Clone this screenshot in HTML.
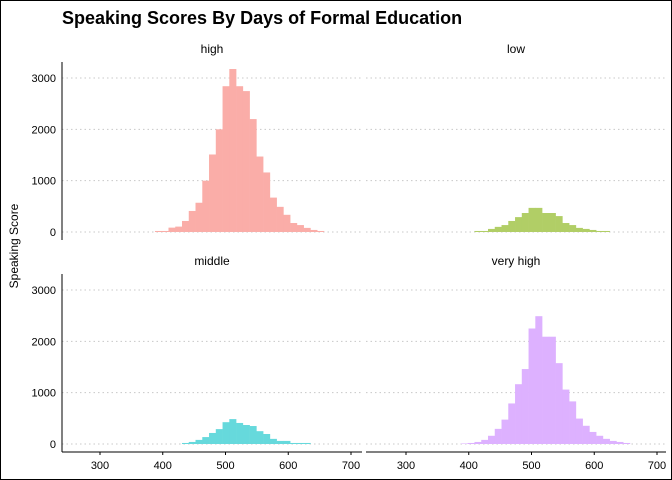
<!DOCTYPE html>
<html><head><meta charset="utf-8"><style>
html,body{margin:0;padding:0;background:#fff}
svg{display:block}
text{font-family:"Liberation Sans",Arial,sans-serif}
</style></head><body>
<svg id="chart" width="672" height="480" viewBox="0 0 672 480">
<rect x="0.5" y="0.5" width="671" height="479" fill="#fff" stroke="#000"/>
<text x="62" y="24" font-size="18" font-weight="bold" fill="#000">Speaking Scores By Days of Formal Education</text>
<text transform="translate(18,246) rotate(-90)" text-anchor="middle" font-size="12" fill="#000">Speaking Score</text>
<g id="panels"></g>
</svg>
<script>
const binStart = 387.6;
const binWidth = 10.77;
const yTicks = [0, 1000, 2000, 3000];
const xTicks = [300, 400, 500, 600, 700];
const panelNames = ["high", "low", "middle", "very high"];
const highCounts = [20,20,85,105,215,410,570,1000,1510,2000,2840,3175,2840,2745,2200,1470,1160,670,490,335,175,135,80,40,20];
const lowCounts = [0,0,20,20,60,100,135,215,290,370,470,470,370,370,310,175,135,80,60,40,20,20,0,0,0];
const middleCounts = [0,0,0,0,20,40,80,135,215,290,425,485,410,370,350,250,195,100,60,60,20,20,20,0,0];
const veryHighCounts = [10,20,40,80,160,295,475,790,1165,1460,2250,2490,2090,2090,1575,1060,830,495,355,235,160,100,60,40,20];
const seriesCounts = [highCounts, lowCounts, middleCounts, veryHighCounts];
const fills = ["#FAADA8", "#B1CE66", "#66D9DC", "#DDB1FF"];

const NS = "http://www.w3.org/2000/svg";
const root = document.getElementById("panels");
function mk(tag, attrs, parent){
  const e = document.createElementNS(NS, tag);
  for (const k in attrs) e.setAttribute(k, attrs[k]);
  parent.appendChild(e);
  return e;
}
const layouts = [
  {x0:62, x1:362, off:38, top:62, y0:232, y3k:78, bottom:240},
  {x0:366, x1:666, off:40, top:62, y0:232, y3k:78, bottom:240},
  {x0:62, x1:362, off:38, top:274, y0:444, y3k:290, bottom:452},
  {x0:366, x1:666, off:40, top:274, y0:444, y3k:290, bottom:452}
];
layouts.forEach((L, i) => {
  const g = mk("g", {}, root);
  
  
  const xs = v => L.x0 + L.off + (v - 300) * 0.6275;
  const ys = v => L.y0 - v * (L.y0 - L.y3k) / 3000;
  const strip = mk("text", {x:(L.x0+L.x1)/2, y:L.top-9, "text-anchor":"middle", "font-size":12, fill:"#000"}, g);
  strip.textContent = panelNames[i];
  
  
  yTicks.forEach(t => {
    const gl = mk("line", {x1:L.x0, x2:L.x1, y1:ys(t), y2:ys(t), stroke:"#c8c8c8", "stroke-width":1, "stroke-dasharray":"1.5 3"}, g);
    
    
  });
  seriesCounts[i].forEach((c, k) => {
    if (c <= 0) return;
    const a = xs(binStart + k * binWidth), b = xs(binStart + (k + 1) * binWidth);
    const r = mk("rect", {x:a, y:ys(c), width:b - a + 0.3, height:ys(0) - ys(c), fill:fills[i]}, g);
    
    
  });
  if (i % 2 === 0) {
    const ax = mk("line", {x1:L.x0, x2:L.x0, y1:L.top, y2:L.bottom, stroke:"#000", "stroke-width":1}, g);
    
    
    yTicks.forEach(t => {
      const tl = mk("text", {x:L.x0 - 6, y:ys(t) + 4, "text-anchor":"end", "font-size":11, fill:"#000"}, g);
      tl.textContent = t;
      
      
    });
  }
  if (i >= 2) {
    const ax = mk("line", {x1:L.x0, x2:L.x1, y1:L.bottom, y2:L.bottom, stroke:"#000", "stroke-width":1}, g);
    
    
    xTicks.forEach(t => {
      const tk = mk("line", {x1:xs(t), x2:xs(t), y1:L.bottom, y2:L.bottom + 3, stroke:"#000"}, g);
      
      
      const tl = mk("text", {x:xs(t), y:L.bottom + 17, "text-anchor":"middle", "font-size":11, fill:"#000"}, g);
      tl.textContent = t;
      
      
    });
  }
});
</script>
</body></html>
